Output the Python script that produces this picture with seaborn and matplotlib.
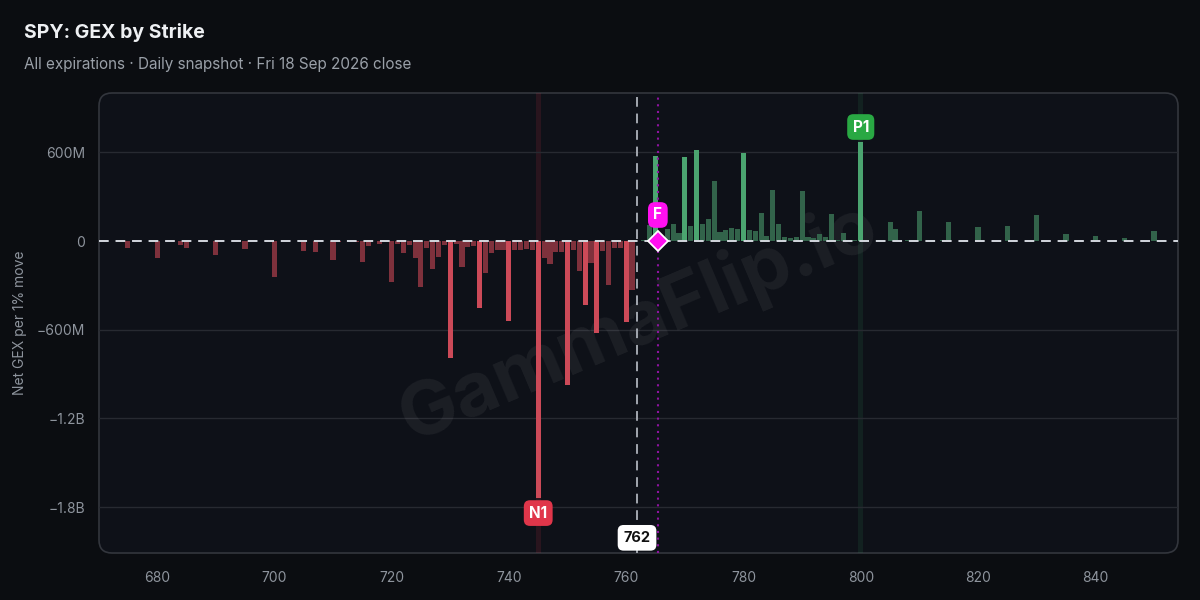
import matplotlib
matplotlib.use("Agg")
import matplotlib.pyplot as plt
import matplotlib.transforms as mtransforms
from matplotlib.patches import FancyBboxPatch
import numpy as np
import pandas as pd
import seaborn as sns

# ---------------- data ----------------
neg_strikes = [675, 680, 684, 685, 690, 695, 700, 705, 707, 710, 711, 714, 715, 716, 718,
               720, 721, 722, 723, 724, 725, 726, 727, 728, 729, 730, 731, 732, 733, 734,
               735, 736, 737, 738, 739, 740, 741, 742, 743, 744, 745, 746, 747, 748, 749,
               750, 751, 752, 753, 754, 755, 756, 757, 758, 759, 760, 761]
neg_gex_m = [-45, -113, -25, -45, -92, -52, -241, -65, -72, -126, -10, -10, -140, -32, -18,
             -275, -18, -79, -25, -113, -309, -45, -187, -106, -25, -789, -18, -174, -38, -32,
             -451, -214, -79, -59, -59, -539, -59, -59, -52, -59, -1740, -113, -153, -72, -72,
             -972, -59, -201, -431, -147, -620, -65, -296, -45, -45, -546, -329]
pos_strikes = [763, 764, 765, 766, 767, 768, 769, 770, 771, 772, 773, 774, 775, 776, 777,
               778, 779, 780, 781, 782, 783, 784, 785, 786, 787, 788, 789, 790, 791, 792,
               793, 794, 795, 796, 797, 798, 799, 800, 801, 803, 805, 806, 808, 809, 810,
               814, 815, 820, 825, 830, 835, 840, 845, 850]
pos_gex_m = [5, 108, 573, 30, 79, 113, 52, 566, 99, 614, 113, 147, 404, 59, 72,
             86, 79, 593, 72, 65, 187, 32, 343, 113, 25, 18, 25, 336, 25, 18,
             45, 25, 180, 10, 52, 10, 10, 667, 8, 5, 131, 84, 5, 5, 205,
             5, 131, 97, 104, 178, 50, 36, 23, 70]

spot_price = 761.85
spot_label = "762"
flip_strike = 765.4
n1_strike, p1_strike = 745, 800

y_ticks_m = [-1800, -1200, -600, 0, 600]
y_tick_labels = ["\u22121.8B", "\u22121.2B", "\u2212600M", "0", "600M"]
x_ticks = [680, 700, 720, 740, 760, 780, 800, 820, 840]

title = "SPY: GEX by Strike"
subtitle = "All expirations \u00b7 Daily snapshot \u00b7 Fri 18 Sep 2026 close"
y_label = "Net GEX per 1% move"
watermark = "GammaFlip.io"

# ---------------- styling ----------------
FIG_BG = "#0b0d11"
AX_BG = "#0e1118"
GRID = "#272a31"
TXT = "#8e949d"
RED_HI, RED_LO = "#e23447", "#8b2433"
GRN_HI, GRN_LO = "#3cb46e", "#2a6b4a"
THRESH = 420

sns.set_theme(style="dark")
plt.rcParams["font.family"] = ["Inter", "DejaVu Sans"]

strikes = neg_strikes + pos_strikes
gex = neg_gex_m + pos_gex_m
tier = []
for v in gex:
    if v < 0:
        tier.append("neg_hi" if abs(v) >= THRESH else "neg_lo")
    else:
        tier.append("pos_hi" if v >= THRESH else "pos_lo")
df = pd.DataFrame({"strike": strikes, "gex": gex, "tier": tier})
palette = {"neg_hi": RED_HI, "neg_lo": RED_LO, "pos_hi": GRN_HI, "pos_lo": GRN_LO}

fig = plt.figure(figsize=(12, 6), dpi=100, facecolor=FIG_BG)
ax = fig.add_axes([99 / 1200, 1 - 553 / 600, (1178 - 99) / 1200, (553 - 93) / 600])
ax.set_facecolor("none")
for s in ax.spines.values():
    s.set_visible(False)

# rounded panel
panel = FancyBboxPatch((0, 0), 1, 1, boxstyle="round,pad=0,rounding_size=0.012",
                       transform=ax.transAxes, facecolor=AX_BG, edgecolor="#33363d",
                       linewidth=1.2, zorder=-10, clip_on=False, mutation_aspect=1079 / 460)
fig.patches.append(panel)
panel.set_transform(ax.transAxes)

# highlight bands for N1 / P1
ax.axvspan(n1_strike - 0.42, n1_strike + 0.42, color=RED_HI, alpha=0.13, lw=0, zorder=0.5)
ax.axvspan(p1_strike - 0.42, p1_strike + 0.42, color=GRN_HI, alpha=0.10, lw=0, zorder=0.5)

# grid
for yt in y_ticks_m:
    if yt != 0:
        ax.axhline(yt, color=GRID, lw=1, zorder=0.6)

sns.barplot(data=df, x="strike", y="gex", hue="tier", palette=palette,
            native_scale=True, dodge=False, width=0.87, errorbar=None,
            legend=False, ax=ax, zorder=2, linewidth=0)

# zero line
ax.axhline(0, color="#d3d7de", lw=1.4, ls=(0, (5, 3.5)), zorder=3)

# spot line
ax.axvline(spot_price, color="#a3a8b0", lw=1.4, ls=(0, (5, 3.5)), zorder=3)
# flip line
ax.axvline(flip_strike, color="#8e14a0", lw=1.5, ls=(0, (1, 2.2)), zorder=3)

ax.set_xlim(670.1, 854.1)
ax.set_ylim(-2110, 1001)
ax.set_yticks(y_ticks_m)
ax.set_yticklabels(y_tick_labels)
ax.set_xticks(x_ticks)
ax.set_xticklabels([str(x) for x in x_ticks])
ax.tick_params(axis="both", length=0, colors=TXT, labelsize=10)
ax.tick_params(axis="y", pad=10)
ax.tick_params(axis="x", pad=13)
ax.set_xlabel("")
ax.set_ylabel(y_label, color=TXT, fontsize=10)
ax.yaxis.set_label_coords(-0.067, 0.5)
ax.grid(False)

# flip marker
ax.plot([flip_strike], [0], marker="D", markersize=10.5, color="#ff10f0",
        markeredgecolor="white", markeredgewidth=1.3, zorder=6, clip_on=False)
ax.text(flip_strike, 176, "F", ha="center", va="center", color="white", fontsize=11,
        fontweight="bold", zorder=7,
        bbox=dict(boxstyle="round,pad=0.35,rounding_size=0.45", fc="#ff10f0", ec="none"))

# N1 / P1 labels
ax.text(n1_strike, -1840, "N1", ha="center", va="center", color="white", fontsize=11,
        fontweight="bold", zorder=7,
        bbox=dict(boxstyle="round,pad=0.35,rounding_size=0.4", fc="#e0364a", ec="none"))
ax.text(p1_strike, 771, "P1", ha="center", va="center", color="white", fontsize=11,
        fontweight="bold", zorder=7,
        bbox=dict(boxstyle="round,pad=0.35,rounding_size=0.4", fc="#29a843", ec="none"))

# spot label
trans = mtransforms.blended_transform_factory(ax.transData, ax.transAxes)
ax.text(spot_price, 0.033, spot_label, transform=trans, ha="center", va="center",
        color="#111111", fontsize=10.5, fontweight="bold", zorder=7,
        bbox=dict(boxstyle="round,pad=0.4,rounding_size=0.4", fc="white", ec="none"))

# watermark
ax.text(0.5, 0.5, watermark, transform=ax.transAxes, ha="center", va="center",
        rotation=23, fontsize=55, fontweight="bold", color="white", alpha=0.06, zorder=1)

# titles
fig.text(24 / 1200, 1 - 33 / 600, title, ha="left", va="center", color="#eef0f3",
         fontsize=14, fontweight="bold")
fig.text(24 / 1200, 1 - 64 / 600, subtitle, ha="left", va="center", color="#9aa0a8",
         fontsize=11)

fig.savefig("out.png", dpi=100, facecolor=FIG_BG)
